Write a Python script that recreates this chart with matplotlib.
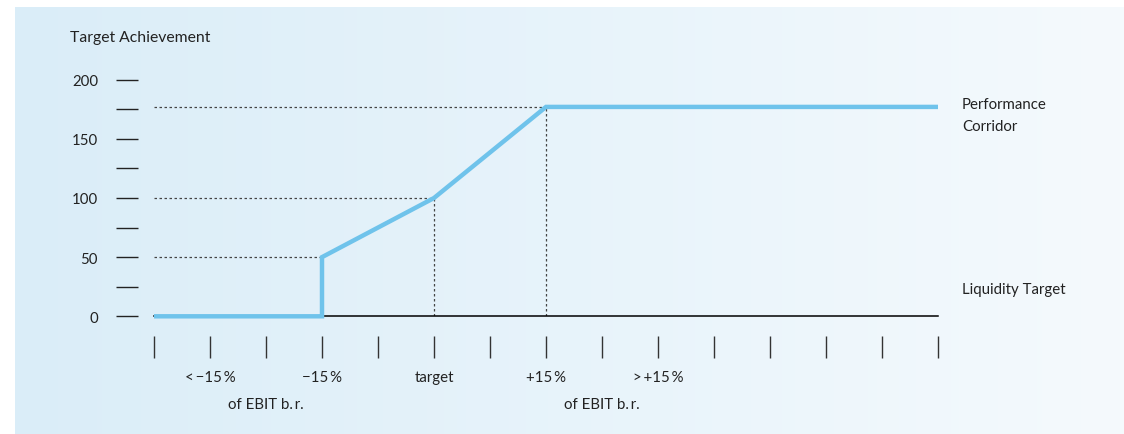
import numpy as np
import matplotlib.pyplot as plt
from matplotlib.colors import LinearSegmentedColormap

plt.rcParams['font.family'] = ['Lato', 'DejaVu Sans']

# achievement curve (x = tick index along the EBIT axis)
curve_x = [0, 6, 6, 10, 14, 28]
curve_y = [0, 0, 50, 100, 177, 177]
n_ticks = 29
tick_labels = {2: '<\u2009\u221215\u2009%', 6: '\u221215\u2009%', 10: 'target',
               14: '+15\u2009%', 18: '>\u2009+15\u2009%'}
sub_labels = {4: 'of EBIT b.\u2009r.', 16: 'of EBIT b.\u2009r.'}
y_major = [0, 50, 100, 150, 200]
y_minor = [25, 75, 125, 175]
guide_pts = [(6, 50), (10, 100), (14, 177)]

W, H = 1124, 435
fs = 10.8
fig = plt.figure(figsize=(W / 100, H / 100), dpi=100)
fig.patch.set_facecolor('white')

# gradient panel
bg = fig.add_axes([15 / W, 0, 1 - 15 / W, 1 - 8 / H])
cmap = LinearSegmentedColormap.from_list('bgc', ['#daedf8', '#f5fafd'])
bg.imshow(np.linspace(0, 1, 256).reshape(1, -1), cmap=cmap, aspect='auto',
          extent=[0, 1, 0, 1])
bg.set_axis_off()

x0, x1 = 154, 938
y0, y1 = 317.3, 80.7
ax = fig.add_axes([x0 / W, 1 - y0 / H, (x1 - x0) / W, (y0 - y1) / H])
ax.patch.set_alpha(0)
ax.set_xlim(0, 28)
ax.set_ylim(0, 200)

for s in ['top', 'right']:
    ax.spines[s].set_visible(False)
ax.spines['left'].set_position(('outward', 16 * 0.72))
ax.spines['bottom'].set_position(('outward', 20 * 0.72))
ax.spines['left'].set_visible(False)
ax.spines['bottom'].set_visible(False)

ax.set_yticks(y_major)
ax.set_yticks(y_minor, minor=True)
ax.tick_params(axis='y', which='both', direction='out', length=22 * 0.72,
               width=1, color='#222222', pad=18 * 0.72, labelsize=fs,
               labelcolor='#222222')

xt = list(range(0, n_ticks, 2))
ax.set_xticks(xt)
ax.set_xticklabels(['' for t in xt])
ax.tick_params(axis='x', direction='out', length=22 * 0.72, width=1,
               color='#333333', pad=10 * 0.72)
for k, lab in tick_labels.items():
    ax.text(k, -51, lab, ha='center', va='center', fontsize=fs,
            color='#222222', clip_on=False)
for k, lab in sub_labels.items():
    ax.text(k, -74, lab, ha='center', va='center', fontsize=fs,
            color='#222222', clip_on=False)

# guides
for gx, gy in guide_pts:
    ax.plot([0, gx], [gy, gy], ls=(0, (2, 2)), lw=0.9, color='#444444')
    if gx != 6:
        ax.plot([gx, gx], [0, gy], ls=(0, (2, 2)), lw=0.9, color='#444444')

ax.axhline(0, color='black', lw=1.1, clip_on=False)
ax.plot(curve_x, curve_y, color='#6fc3eb', lw=3.2, clip_on=False,
        solid_capstyle='butt', solid_joinstyle='miter')

fig.text(70 / W, 1 - 38 / H, 'Target Achievement', fontsize=11.3,
         color='#222222', va='center')
ax.text(28.85, 170, 'Performance\nCorridor', fontsize=fs, color='#222222',
        va='center', ha='left', linespacing=1.75, clip_on=False)
ax.text(28.85, 23, 'Liquidity Target', fontsize=fs, color='#222222',
        va='center', ha='left', clip_on=False)

fig.savefig('out.png', dpi=100)
